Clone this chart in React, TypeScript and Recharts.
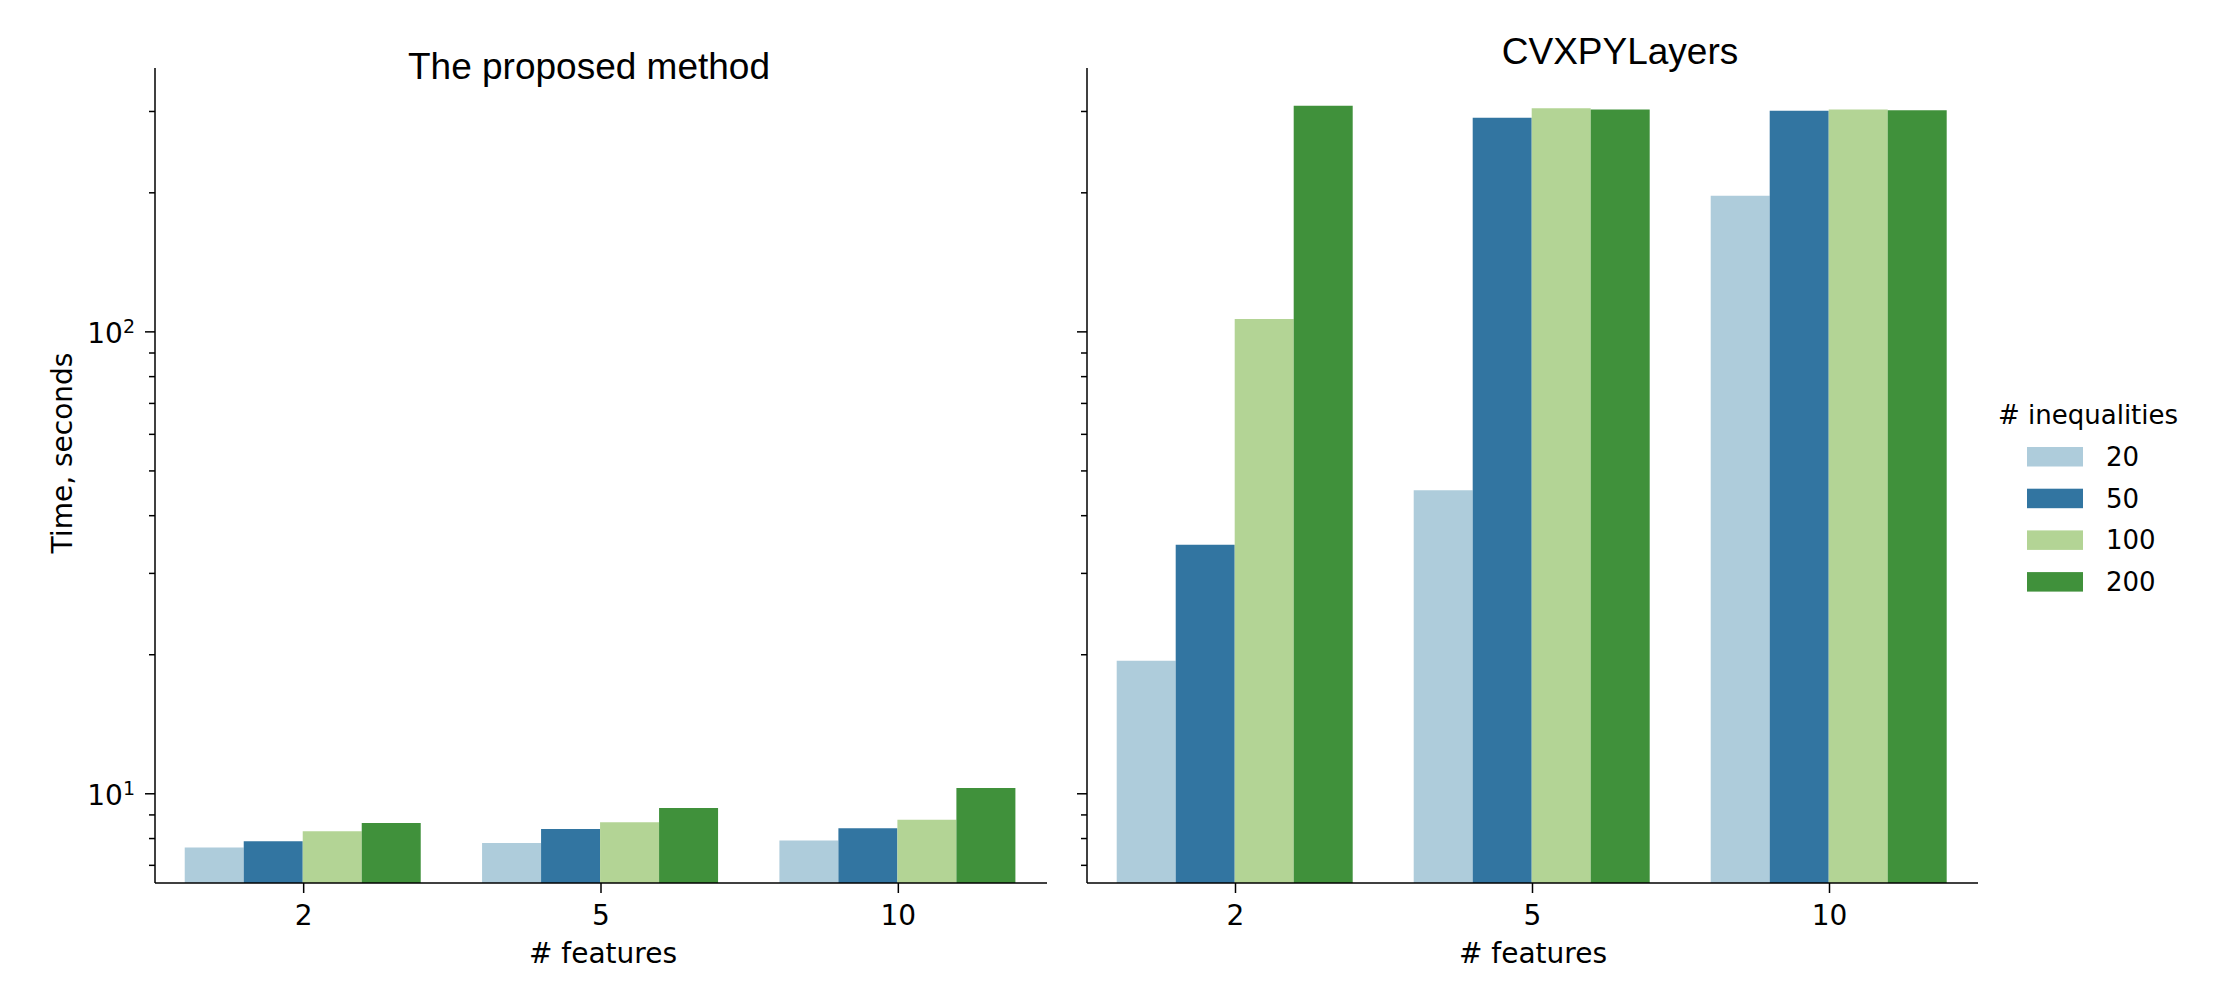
import { BarChart, Bar, XAxis, YAxis } from 'recharts';

// # features on the x axis
const categories = ['2', '5', '10'];
// # inequalities (hue)
const seriesNames = ['20', '50', '100', '200'];
const seriesColors = ['#aeccdb', '#3275a1', '#b3d495', '#40913b'];

// The proposed method, seconds
const proposed20 = [7.65, 7.82, 7.92];
const proposed50 = [7.89, 8.39, 8.42];
const proposed100 = [8.3, 8.68, 8.79];
const proposed200 = [8.64, 9.32, 10.29];

// CVXPYLayers, seconds
const cvx20 = [19.4, 45.4, 197];
const cvx50 = [34.6, 290.6, 301];
const cvx100 = [106.6, 304.9, 302.9];
const cvx200 = [308.8, 302.9, 302];

const yTicks = [7, 8, 9, 10, 20, 30, 40, 50, 60, 70, 80, 90, 100, 200, 300];
const majorTicks = [10, 100];
const yDomain = [6.41, 372.6];

const SANS = '"DejaVu Sans", sans-serif';
const TITLE_FONT = '"Liberation Sans", Arial, sans-serif';

const keys = seriesNames.map((n) => 's' + n);

function buildRows(cols: number[][]) {
  return categories.map((c, i) => {
    const row: any = { features: c };
    keys.forEach((k, j) => {
      row[k] = cols[j][i];
    });
    return row;
  });
}

const proposedRows = buildRows([proposed20, proposed50, proposed100, proposed200]);
const cvxRows = buildRows([cvx20, cvx50, cvx100, cvx200]);

function YTick(props: any) {
  const { x, y, payload, showLabel } = props;
  const v = payload.value;
  const major = majorTicks.includes(v);
  const len = major ? 10 : 6;
  return (
    <g>
      <line x1={x - len} x2={x} y1={y} y2={y} stroke="#000" strokeWidth={1.5} />
      {major && showLabel && (
        <text x={x - 20} y={y + 11} textAnchor="end" fontFamily={SANS} fontSize={28} fill="#000">
          <tspan>10</tspan>
          <tspan dy={-9.4} fontSize={19}>{Math.round(Math.log10(v))}</tspan>
        </text>
      )}
    </g>
  );
}

function XTick(props: any) {
  const { x, y, payload } = props;
  return (
    <g>
      <line x1={x} x2={x} y1={y} y2={y + 10} stroke="#000" strokeWidth={1.5} />
      <text x={x} y={y + 42} textAnchor="middle" fontFamily={SANS} fontSize={28} fill="#000">
        {payload.value}
      </text>
    </g>
  );
}

function Panel({ rows, width, margin, yWidth, showLabels }: any) {
  return (
    <BarChart width={width} height={1000} data={rows} margin={margin} barCategoryGap="10%" barGap={0}>
      <XAxis
        dataKey="features"
        height={60}
        tickSize={0}
        tickMargin={0}
        tickLine={false}
        interval={0}
        axisLine={{ stroke: '#000', strokeWidth: 1.5 }}
        tick={(p: any) => <XTick {...p} />}
      />
      <YAxis
        scale="log"
        type="number"
        domain={yDomain}
        allowDataOverflow
        ticks={yTicks}
        interval={0}
        width={yWidth}
        tickSize={0}
        tickMargin={0}
        tickLine={false}
        axisLine={{ stroke: '#000', strokeWidth: 1.5 }}
        tick={(p: any) => <YTick {...p} showLabel={showLabels} />}
      />
      {keys.map((k, i) => (
        <Bar key={k} dataKey={k} fill={seriesColors[i]} isAnimationActive={false} />
      ))}
    </BarChart>
  );
}

export default function App() {
  return (
    <div style={{ position: 'absolute', left: 0, top: 0, width: 2213, height: 1000, background: '#fff' }}>
      <div style={{ position: 'absolute', left: 0, top: 0 }}>
        <Panel
          rows={proposedRows}
          width={1066}
          margin={{ top: 68, right: 19, bottom: 57, left: 55 }}
          yWidth={100}
          showLabels
        />
      </div>
      <div style={{ position: 'absolute', left: 1066, top: 0 }}>
        <Panel
          rows={cvxRows}
          width={1147}
          margin={{ top: 68, right: 235, bottom: 57, left: 11 }}
          yWidth={10}
          showLabels={false}
        />
      </div>
      <svg
        width={2213}
        height={1000}
        style={{ position: 'absolute', left: 0, top: 0, pointerEvents: 'none' }}
      >
        <text x={589} y={79} textAnchor="middle" fontFamily={TITLE_FONT} fontSize={37} fill="#000">
          The proposed method
        </text>
        <text x={1620} y={64} textAnchor="middle" fontFamily={TITLE_FONT} fontSize={37} fill="#000">
          CVXPYLayers
        </text>
        <text
          x={72}
          y={453}
          textAnchor="middle"
          transform="rotate(-90, 72, 453)"
          fontFamily={SANS}
          fontSize={28}
          fill="#000"
        >
          Time, seconds
        </text>
        <text x={603} y={963} textAnchor="middle" fontFamily={SANS} fontSize={28} fill="#000">
          # features
        </text>
        <text x={1533} y={963} textAnchor="middle" fontFamily={SANS} fontSize={28} fill="#000">
          # features
        </text>
        <text x={1998} y={424} fontFamily={SANS} fontSize={26} fill="#000">
          # inequalities
        </text>
        {seriesNames.map((n, i) => (
          <g key={n}>
            <rect x={2027} y={447 + i * 41.7} width={56} height={19.5} fill={seriesColors[i]} />
            <text x={2106} y={466 + i * 41.7} fontFamily={SANS} fontSize={26} fill="#000">
              {n}
            </text>
          </g>
        ))}
      </svg>
    </div>
  );
}
